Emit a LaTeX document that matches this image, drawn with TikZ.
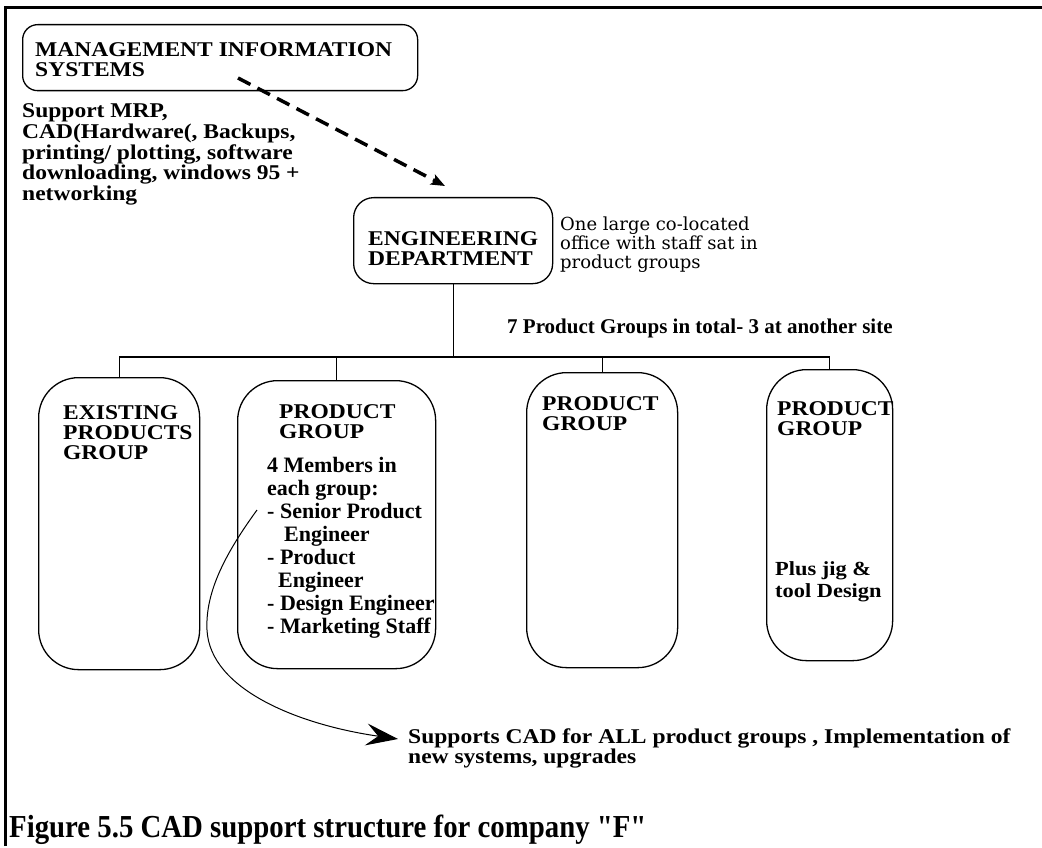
\documentclass[tikz,border=0pt]{standalone}
\usepackage{fontspec}
\setmainfont{Liberation Serif}
\newfontfamily\hb{Liberation Serif}[FakeStretch=1.12]
\newfontfamily\cs{DejaVu Serif}
\newfontfamily\capf{Liberation Serif}[FakeStretch=0.9]
\usetikzlibrary{arrows.meta}

% stacked lines whose reference point is the first baseline
\newcommand\rows[1]{\begin{tabular}[t]{@{}l@{}}#1\end{tabular}}

\begin{document}
\begin{tikzpicture}[x=1pt,y=-1pt,
  box/.style={draw, line width=1.3pt, anchor=north west, inner sep=0pt},
  grp/.style={box, rounded corners=40pt},
  txt/.style={anchor=base west, inner sep=0pt},
  head/.style={txt, font=\hb\bfseries\fontsize{21}{20}\selectfont},
  body/.style={txt, font=\bfseries\fontsize{22}{23}\selectfont},
  tree/.style={line width=1.1pt},
  dasharrow/.style={line width=3.5pt, dash pattern=on 14pt off 8pt,
    -{Stealth[length=14pt,width=11pt,inset=3pt]}},
  curvearrow/.style={line width=1pt, -{Stealth[length=32pt,width=22pt,inset=12pt]}}]

\useasboundingbox (0,0) rectangle (1042,848);

% frame
\draw[line width=3pt] (5,846) -- (5,7.5) -- (1042,7.5);

% management information systems
\node[box, rounded corners=15pt, minimum width=395pt, minimum height=66pt] (mis) at (22,24) {};
\node[head] (mistxt) at (35,57) {\rows{MANAGEMENT INFORMATION\\SYSTEMS}};
\node[head, font=\hb\bfseries\fontsize{21}{20}\selectfont] (mistask) at (22,118)
  {\rows{Support MRP,\\CAD(Hardware(, Backups,\\printing/ plotting, software\\downloading, windows 95 +\\networking}};

% engineering department
\node[box, rounded corners=20pt, minimum width=199pt, minimum height=86pt] (eng) at (353,197) {};
\node[head] (engtxt) at (368,245) {\rows{ENGINEERING\\DEPARTMENT}};
\node[txt, font=\cs\fontsize{18}{19}\selectfont] (office) at (560,230)
  {\rows{One large co-located\\office with staff sat in\\product groups}};

% product groups
\node[grp, minimum width=161pt, minimum height=292pt] (ex)  at (38,377) {};
\node[grp, minimum width=198pt, minimum height=288pt] (pg1) at (237,380) {};
\node[grp, minimum width=151pt, minimum height=295pt] (pg2) at (526,372) {};
\node[grp, minimum width=126pt, minimum height=291pt] (pg3) at (766,369) {};

\node[head] (extxt)  at (63,419)  {\rows{EXISTING\\PRODUCTS\\GROUP}};
\node[head] (pg1txt) at (279,418) {\rows{PRODUCT\\GROUP}};
\node[head] (pg2txt) at (542,410) {\rows{PRODUCT\\GROUP}};
\node[head] (pg3txt) at (777,415) {\rows{PRODUCT\\GROUP}};

\node[body] (members) at (267,472)
  {\rows{4 Members in\\each group:\\- Senior Product\\\hspace*{17pt}Engineer\\- Product\\\hspace*{11pt}Engineer\\- Design Engineer\\- Marketing Staff}};
\node[txt, font=\hb\bfseries\fontsize{20}{22}\selectfont] (jig) at (775,575) {\rows{Plus jig \&\\tool Design}};

% tree connectors
\coordinate (bus) at (0,357);
\draw[tree] (eng.south) -- (eng.south |- bus);
\draw[tree] (ex.north) -- (ex.north |- bus) -- (pg3.north |- bus) -- (pg3.north);
\draw[tree] (pg1.north) -- (pg1.north |- bus);
\draw[tree] (pg2.north) -- (pg2.north |- bus);

\node[txt, font=\bfseries\fontsize{21}{21}\selectfont] (total) at (507,333)
  {7 Product Groups in total- 3 at another site};

% support links
\coordinate (dsrc) at (238,78);
\coordinate (dtip) at (445,186);
\draw[dasharrow] (dsrc) -- (dtip);

\node[head] (cad) at (408,743)
  {\rows{Supports CAD for ALL product groups , Implementation of\\new systems, upgrades}};
\coordinate (cstart) at (257,510);
\coordinate (cbend) at (207,630);
\coordinate (ctip) at (398,739);
\draw[curvearrow] (cstart) .. controls (228,550) and (205,590) .. (cbend)
  .. controls (210,690) and (300,725) .. (ctip);

% caption
\node[txt, font=\capf\bfseries\fontsize{32}{32}\selectfont] (caption) at (9,837)
  {Figure 5.5 CAD support structure for company "F"};
\end{tikzpicture}
\end{document}
